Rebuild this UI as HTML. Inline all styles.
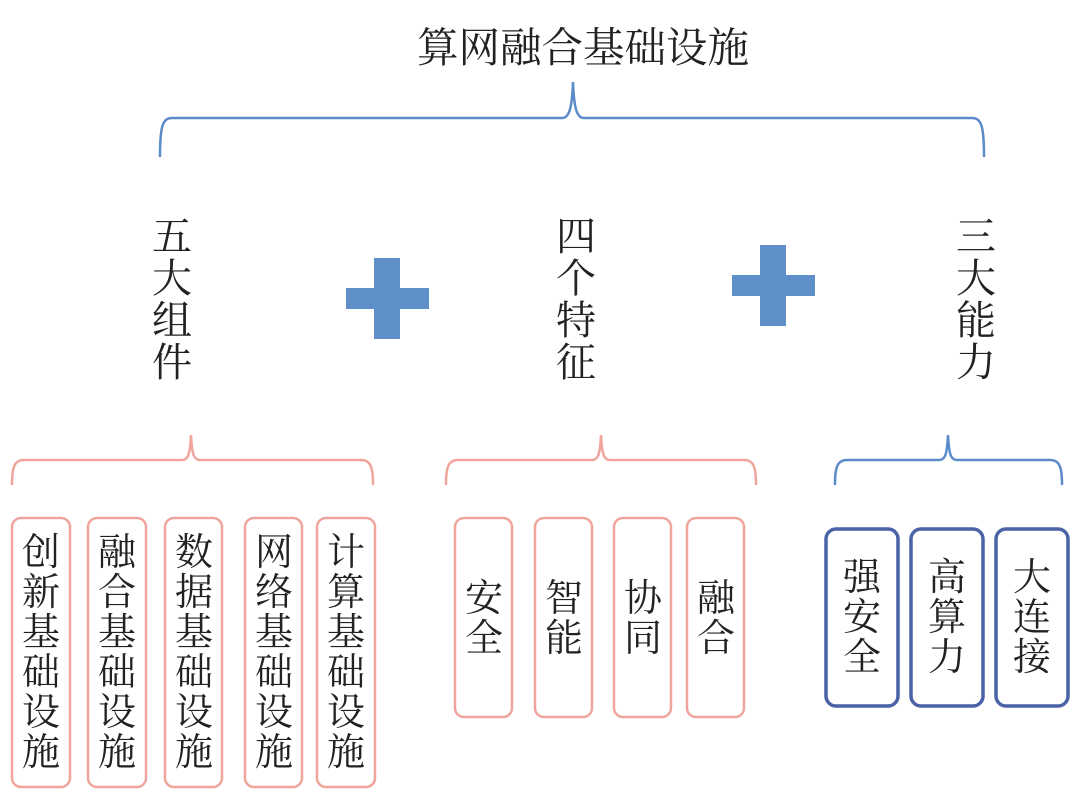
<!DOCTYPE html>
<html><head><meta charset="utf-8"><style>
html,body{margin:0;padding:0;background:#fff;}
svg text{font-family:"Liberation Serif","Noto Serif CJK SC",serif;fill:#222;}
</style></head><body>
<svg width="1080" height="800" viewBox="0 0 1080 800" xmlns="http://www.w3.org/2000/svg">
<text x="583" y="62" font-size="41.5" text-anchor="middle">算网融合基础设施</text>
<g fill="none" stroke-width="2.5" stroke-linecap="round">
<path d="M160 156 C160 125 163 118 172 118 L562 118 C568 118 572 112 573 82 C574 112 578 118 584 118 L972 118 C981 118 984 125 984 156" stroke="#5b8bc9"/>
<path d="M12 484 C12 466 15 460 24 460 L182 460 C188 460 190 455 191 435 C192 455 194 460 200 460 L361 460 C370 460 373 466 373 484" stroke="#efa59c"/>
<path d="M446 484 C446 466 449 460 458 460 L592 460 C598 460 600 455 601 435 C602 455 604 460 610 460 L744 460 C753 460 756 466 756 484" stroke="#efa59c"/>
<path d="M835 484 C835 466 838 460 847 460 L939 460 C945 460 947 455 948 435 C949 455 951 460 957 460 L1050 460 C1059 460 1062 466 1062 484" stroke="#5b8bc9"/>
</g>
<g fill="#5e8fc8">
<rect x="374" y="258" width="26" height="81"/><rect x="346" y="288" width="83" height="21"/>
<rect x="760" y="245" width="26" height="81"/><rect x="732" y="275" width="83" height="21"/>
</g>
<g font-size="40" text-anchor="middle">
<text x="172" y="250">五</text><text x="172" y="292">大</text><text x="172" y="334">组</text><text x="172" y="376">件</text>
<text x="576" y="250">四</text><text x="576" y="292">个</text><text x="576" y="334">特</text><text x="576" y="376">征</text>
<text x="976" y="250">三</text><text x="976" y="292">大</text><text x="976" y="334">能</text><text x="976" y="376">力</text>
</g>
<g fill="none" stroke="#efa59c" stroke-width="2.5">
<rect x="12" y="518" width="58" height="269" rx="9"/>
<rect x="88" y="518" width="58" height="269" rx="9"/>
<rect x="165" y="518" width="57" height="269" rx="9"/>
<rect x="245" y="518" width="57" height="269" rx="9"/>
<rect x="317" y="518" width="58" height="269" rx="9"/>
<rect x="455" y="518" width="57" height="199" rx="9"/>
<rect x="535" y="518" width="57" height="199" rx="9"/>
<rect x="614" y="518" width="57" height="199" rx="9"/>
<rect x="687" y="518" width="57" height="199" rx="9"/>
</g>
<g fill="none" stroke="#4a62a6" stroke-width="3.5">
<rect x="826" y="529" width="72" height="177" rx="10"/>
<rect x="911" y="529" width="72" height="177" rx="10"/>
<rect x="996" y="529" width="72" height="177" rx="10"/>
</g>
<g font-size="38" text-anchor="middle">
<g transform="translate(41,0)"><text y="565">创</text><text y="605">新</text><text y="645">基</text><text y="685">础</text><text y="725">设</text><text y="765">施</text></g>
<g transform="translate(117,0)"><text y="565">融</text><text y="605">合</text><text y="645">基</text><text y="685">础</text><text y="725">设</text><text y="765">施</text></g>
<g transform="translate(194,0)"><text y="565">数</text><text y="605">据</text><text y="645">基</text><text y="685">础</text><text y="725">设</text><text y="765">施</text></g>
<g transform="translate(274,0)"><text y="565">网</text><text y="605">络</text><text y="645">基</text><text y="685">础</text><text y="725">设</text><text y="765">施</text></g>
<g transform="translate(346,0)"><text y="565">计</text><text y="605">算</text><text y="645">基</text><text y="685">础</text><text y="725">设</text><text y="765">施</text></g>
<g transform="translate(484,0)"><text y="611">安</text><text y="651">全</text></g>
<g transform="translate(564,0)"><text y="611">智</text><text y="651">能</text></g>
<g transform="translate(643,0)"><text y="611">协</text><text y="651">同</text></g>
<g transform="translate(716,0)"><text y="611">融</text><text y="651">合</text></g>
<g transform="translate(862,0)"><text y="590">强</text><text y="630">安</text><text y="670">全</text></g>
<g transform="translate(947,0)"><text y="590">高</text><text y="630">算</text><text y="670">力</text></g>
<g transform="translate(1032,0)"><text y="590">大</text><text y="630">连</text><text y="670">接</text></g>
</g>
</svg>
</body></html>
